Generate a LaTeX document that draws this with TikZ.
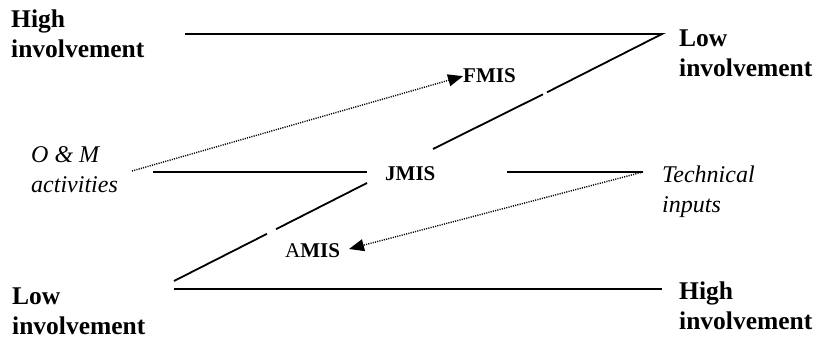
\documentclass[tikz,border=0pt]{standalone}
\usepackage{fontspec}
\setmainfont{Liberation Serif}
\usetikzlibrary{arrows.meta}
\begin{document}
\begin{tikzpicture}[x=1pt,y=-1pt,
  frame/.style={line width=1.8pt},
  dotline/.style={line width=1.4pt, dash pattern=on 1.1pt off 1.2pt},
  tipped/.style={-{Triangle[length=15pt,width=12pt]}},
  corner/.style={anchor=base west, inner sep=0pt, font=\fontsize{25.5}{30}\selectfont\bfseries},
  side/.style={anchor=base west, inner sep=0pt, font=\fontsize{24}{30}\selectfont\itshape},
  sys/.style={anchor=base west, inner sep=0pt, font=\fontsize{21}{25}\selectfont\bfseries}]
\useasboundingbox (0,0) rectangle (820,339);

% corner labels
\node[corner] (hiTL) at (11,28) {\begin{tabular}[t]{@{}l@{}}High\\involvement\end{tabular}};
\node[corner] (loTR) at (679,47) {\begin{tabular}[t]{@{}l@{}}Low\\involvement\end{tabular}};
\node[corner] (loBL) at (12,305) {\begin{tabular}[t]{@{}l@{}}Low\\involvement\end{tabular}};
\node[corner] (hiBR) at (679,300) {\begin{tabular}[t]{@{}l@{}}High\\involvement\end{tabular}};

% side labels
\node[side] (om) at (31,163) {\begin{tabular}[t]{@{}l@{}}O \& M\\activities\end{tabular}};
\node[side] (tech) at (662,183) {\begin{tabular}[t]{@{}l@{}}Technical\\inputs\end{tabular}};

% system labels
\node[sys] (fmis) at (463,83) {FMIS};
\node[sys] (jmis) at (385,181) {JMIS};
\node[sys] (amis) at (285,258) {\mdseries A\bfseries MIS};

% corner points of the Z-shaped frame
\coordinate (topL) at (185,34);
\coordinate (topR) at (662,34);
\coordinate (upA) at (547,92.3);
\coordinate (upB) at (543,94.3);
\coordinate (upEnd) at (433,149);
\coordinate (midL) at (153,172);
\coordinate (midLR) at (367,172);
\coordinate (midRL) at (507,172);
\coordinate (midR) at (643,172);
\coordinate (loStart) at (367,183);
\coordinate (loA) at (276,229.2);
\coordinate (loB) at (267,233.8);
\coordinate (botL) at (174,289);
\coordinate (botL2) at (174,281);
\coordinate (botR) at (662,289);
\coordinate (omEnd) at (132,171);
\coordinate (amisTip) at (349,249);

% Z-shaped frame
\draw[frame] (topL) -- (topR) -- (upA);
\draw[frame] (upB) -- (upEnd);
\draw[frame] (midL) -- (midLR);
\draw[frame] (midRL) -- (midR);
\draw[frame] (loStart) -- (loA);
\draw[frame] (loB) -- (botL2);
\draw[frame] (botL) -- (botR);

% dotted influence arrows
\draw[dotline,tipped] (omEnd) -- (fmis.west);
\draw[dotline,tipped] (midR) -- (amisTip);
\end{tikzpicture}
\end{document}
